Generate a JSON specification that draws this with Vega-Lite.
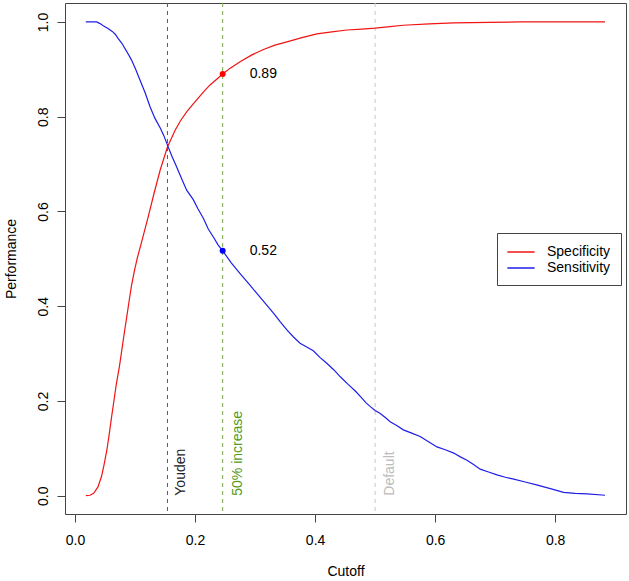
{
  "$schema": "https://vega.github.io/schema/vega-lite/v6.json",
  "width": 561,
  "height": 511,
  "autosize": {"type": "none"},
  "padding": {"left": 65, "top": 3, "right": 3, "bottom": 67},
  "background": "white",
  "config": {
    "view": {"stroke": "#444", "strokeWidth": 1},
    "font": "Liberation Sans",
    "axis": {
      "domain": false, "grid": false, "tickColor": "#444", "tickSize": 8, "tickWidth": 1,
      "labelFont": "Liberation Sans", "labelFontSize": 14, "labelColor": "#000",
      "titleFont": "Liberation Sans", "titleFontSize": 14, "titleFontWeight": "normal", "titleColor": "#000"
    },
    "legend": {
      "labelFont": "Liberation Sans", "labelFontSize": 14, "labelColor": "#000"
    }
  },
  "datasets": {
    "curves": [
      {"cutoff": 0.018, "value": 0.000, "measure": "Specificity"},
      {"cutoff": 0.025, "value": 0.001, "measure": "Specificity"},
      {"cutoff": 0.031, "value": 0.005, "measure": "Specificity"},
      {"cutoff": 0.038, "value": 0.018, "measure": "Specificity"},
      {"cutoff": 0.044, "value": 0.040, "measure": "Specificity"},
      {"cutoff": 0.048, "value": 0.063, "measure": "Specificity"},
      {"cutoff": 0.053, "value": 0.096, "measure": "Specificity"},
      {"cutoff": 0.057, "value": 0.130, "measure": "Specificity"},
      {"cutoff": 0.061, "value": 0.167, "measure": "Specificity"},
      {"cutoff": 0.065, "value": 0.202, "measure": "Specificity"},
      {"cutoff": 0.069, "value": 0.237, "measure": "Specificity"},
      {"cutoff": 0.074, "value": 0.273, "measure": "Specificity"},
      {"cutoff": 0.078, "value": 0.308, "measure": "Specificity"},
      {"cutoff": 0.082, "value": 0.343, "measure": "Specificity"},
      {"cutoff": 0.086, "value": 0.376, "measure": "Specificity"},
      {"cutoff": 0.090, "value": 0.410, "measure": "Specificity"},
      {"cutoff": 0.094, "value": 0.443, "measure": "Specificity"},
      {"cutoff": 0.099, "value": 0.475, "measure": "Specificity"},
      {"cutoff": 0.104, "value": 0.503, "measure": "Specificity"},
      {"cutoff": 0.110, "value": 0.531, "measure": "Specificity"},
      {"cutoff": 0.116, "value": 0.560, "measure": "Specificity"},
      {"cutoff": 0.122, "value": 0.589, "measure": "Specificity"},
      {"cutoff": 0.132, "value": 0.640, "measure": "Specificity"},
      {"cutoff": 0.142, "value": 0.688, "measure": "Specificity"},
      {"cutoff": 0.154, "value": 0.736, "measure": "Specificity"},
      {"cutoff": 0.167, "value": 0.772, "measure": "Specificity"},
      {"cutoff": 0.176, "value": 0.792, "measure": "Specificity"},
      {"cutoff": 0.186, "value": 0.810, "measure": "Specificity"},
      {"cutoff": 0.197, "value": 0.827, "measure": "Specificity"},
      {"cutoff": 0.207, "value": 0.842, "measure": "Specificity"},
      {"cutoff": 0.216, "value": 0.855, "measure": "Specificity"},
      {"cutoff": 0.225, "value": 0.867, "measure": "Specificity"},
      {"cutoff": 0.236, "value": 0.879, "measure": "Specificity"},
      {"cutoff": 0.246, "value": 0.890, "measure": "Specificity"},
      {"cutoff": 0.258, "value": 0.902, "measure": "Specificity"},
      {"cutoff": 0.275, "value": 0.916, "measure": "Specificity"},
      {"cutoff": 0.294, "value": 0.930, "measure": "Specificity"},
      {"cutoff": 0.314, "value": 0.942, "measure": "Specificity"},
      {"cutoff": 0.333, "value": 0.951, "measure": "Specificity"},
      {"cutoff": 0.353, "value": 0.958, "measure": "Specificity"},
      {"cutoff": 0.378, "value": 0.967, "measure": "Specificity"},
      {"cutoff": 0.403, "value": 0.975, "measure": "Specificity"},
      {"cutoff": 0.428, "value": 0.979, "measure": "Specificity"},
      {"cutoff": 0.453, "value": 0.983, "measure": "Specificity"},
      {"cutoff": 0.478, "value": 0.985, "measure": "Specificity"},
      {"cutoff": 0.500, "value": 0.987, "measure": "Specificity"},
      {"cutoff": 0.525, "value": 0.990, "measure": "Specificity"},
      {"cutoff": 0.547, "value": 0.993, "measure": "Specificity"},
      {"cutoff": 0.590, "value": 0.996, "measure": "Specificity"},
      {"cutoff": 0.631, "value": 0.998, "measure": "Specificity"},
      {"cutoff": 0.690, "value": 0.999, "measure": "Specificity"},
      {"cutoff": 0.742, "value": 1.000, "measure": "Specificity"},
      {"cutoff": 0.883, "value": 1.000, "measure": "Specificity"},
      {"cutoff": 0.018, "value": 1.000, "measure": "Sensitivity"},
      {"cutoff": 0.036, "value": 1.000, "measure": "Sensitivity"},
      {"cutoff": 0.041, "value": 0.997, "measure": "Sensitivity"},
      {"cutoff": 0.047, "value": 0.992, "measure": "Sensitivity"},
      {"cutoff": 0.055, "value": 0.986, "measure": "Sensitivity"},
      {"cutoff": 0.062, "value": 0.980, "measure": "Sensitivity"},
      {"cutoff": 0.067, "value": 0.974, "measure": "Sensitivity"},
      {"cutoff": 0.072, "value": 0.965, "measure": "Sensitivity"},
      {"cutoff": 0.078, "value": 0.955, "measure": "Sensitivity"},
      {"cutoff": 0.086, "value": 0.938, "measure": "Sensitivity"},
      {"cutoff": 0.094, "value": 0.920, "measure": "Sensitivity"},
      {"cutoff": 0.101, "value": 0.900, "measure": "Sensitivity"},
      {"cutoff": 0.108, "value": 0.878, "measure": "Sensitivity"},
      {"cutoff": 0.117, "value": 0.850, "measure": "Sensitivity"},
      {"cutoff": 0.125, "value": 0.821, "measure": "Sensitivity"},
      {"cutoff": 0.133, "value": 0.797, "measure": "Sensitivity"},
      {"cutoff": 0.142, "value": 0.776, "measure": "Sensitivity"},
      {"cutoff": 0.148, "value": 0.760, "measure": "Sensitivity"},
      {"cutoff": 0.154, "value": 0.740, "measure": "Sensitivity"},
      {"cutoff": 0.162, "value": 0.715, "measure": "Sensitivity"},
      {"cutoff": 0.169, "value": 0.695, "measure": "Sensitivity"},
      {"cutoff": 0.178, "value": 0.668, "measure": "Sensitivity"},
      {"cutoff": 0.186, "value": 0.645, "measure": "Sensitivity"},
      {"cutoff": 0.197, "value": 0.625, "measure": "Sensitivity"},
      {"cutoff": 0.205, "value": 0.605, "measure": "Sensitivity"},
      {"cutoff": 0.214, "value": 0.585, "measure": "Sensitivity"},
      {"cutoff": 0.222, "value": 0.563, "measure": "Sensitivity"},
      {"cutoff": 0.231, "value": 0.545, "measure": "Sensitivity"},
      {"cutoff": 0.238, "value": 0.530, "measure": "Sensitivity"},
      {"cutoff": 0.246, "value": 0.517, "measure": "Sensitivity"},
      {"cutoff": 0.260, "value": 0.492, "measure": "Sensitivity"},
      {"cutoff": 0.275, "value": 0.469, "measure": "Sensitivity"},
      {"cutoff": 0.289, "value": 0.448, "measure": "Sensitivity"},
      {"cutoff": 0.303, "value": 0.427, "measure": "Sensitivity"},
      {"cutoff": 0.317, "value": 0.406, "measure": "Sensitivity"},
      {"cutoff": 0.331, "value": 0.385, "measure": "Sensitivity"},
      {"cutoff": 0.342, "value": 0.367, "measure": "Sensitivity"},
      {"cutoff": 0.353, "value": 0.350, "measure": "Sensitivity"},
      {"cutoff": 0.364, "value": 0.335, "measure": "Sensitivity"},
      {"cutoff": 0.375, "value": 0.322, "measure": "Sensitivity"},
      {"cutoff": 0.386, "value": 0.314, "measure": "Sensitivity"},
      {"cutoff": 0.397, "value": 0.306, "measure": "Sensitivity"},
      {"cutoff": 0.408, "value": 0.292, "measure": "Sensitivity"},
      {"cutoff": 0.419, "value": 0.280, "measure": "Sensitivity"},
      {"cutoff": 0.431, "value": 0.266, "measure": "Sensitivity"},
      {"cutoff": 0.442, "value": 0.251, "measure": "Sensitivity"},
      {"cutoff": 0.455, "value": 0.235, "measure": "Sensitivity"},
      {"cutoff": 0.467, "value": 0.221, "measure": "Sensitivity"},
      {"cutoff": 0.478, "value": 0.206, "measure": "Sensitivity"},
      {"cutoff": 0.485, "value": 0.196, "measure": "Sensitivity"},
      {"cutoff": 0.492, "value": 0.188, "measure": "Sensitivity"},
      {"cutoff": 0.500, "value": 0.180, "measure": "Sensitivity"},
      {"cutoff": 0.508, "value": 0.174, "measure": "Sensitivity"},
      {"cutoff": 0.517, "value": 0.165, "measure": "Sensitivity"},
      {"cutoff": 0.525, "value": 0.156, "measure": "Sensitivity"},
      {"cutoff": 0.536, "value": 0.148, "measure": "Sensitivity"},
      {"cutoff": 0.547, "value": 0.139, "measure": "Sensitivity"},
      {"cutoff": 0.561, "value": 0.132, "measure": "Sensitivity"},
      {"cutoff": 0.575, "value": 0.125, "measure": "Sensitivity"},
      {"cutoff": 0.589, "value": 0.114, "measure": "Sensitivity"},
      {"cutoff": 0.603, "value": 0.103, "measure": "Sensitivity"},
      {"cutoff": 0.617, "value": 0.097, "measure": "Sensitivity"},
      {"cutoff": 0.631, "value": 0.090, "measure": "Sensitivity"},
      {"cutoff": 0.642, "value": 0.082, "measure": "Sensitivity"},
      {"cutoff": 0.653, "value": 0.075, "measure": "Sensitivity"},
      {"cutoff": 0.664, "value": 0.066, "measure": "Sensitivity"},
      {"cutoff": 0.675, "value": 0.056, "measure": "Sensitivity"},
      {"cutoff": 0.689, "value": 0.050, "measure": "Sensitivity"},
      {"cutoff": 0.703, "value": 0.044, "measure": "Sensitivity"},
      {"cutoff": 0.717, "value": 0.039, "measure": "Sensitivity"},
      {"cutoff": 0.731, "value": 0.035, "measure": "Sensitivity"},
      {"cutoff": 0.750, "value": 0.029, "measure": "Sensitivity"},
      {"cutoff": 0.769, "value": 0.023, "measure": "Sensitivity"},
      {"cutoff": 0.792, "value": 0.015, "measure": "Sensitivity"},
      {"cutoff": 0.814, "value": 0.007, "measure": "Sensitivity"},
      {"cutoff": 0.833, "value": 0.005, "measure": "Sensitivity"},
      {"cutoff": 0.853, "value": 0.004, "measure": "Sensitivity"},
      {"cutoff": 0.883, "value": 0.001, "measure": "Sensitivity"}
    ],
    "cutoffs": [
      {"cutoff": 0.154, "name": "Youden"},
      {"cutoff": 0.246, "name": "50% increase"},
      {"cutoff": 0.5, "name": "Default"}
    ],
    "marks": [
      {"cutoff": 0.246, "value": 0.89, "measure": "Specificity", "label": "0.89"},
      {"cutoff": 0.246, "value": 0.517, "measure": "Sensitivity", "label": "0.52"}
    ]
  },
  "encoding": {
    "x": {
      "field": "cutoff", "type": "quantitative", "title": "Cutoff",
      "scale": {"domain": [-0.0167, 0.918], "nice": false, "zero": false},
      "axis": {"values": [0, 0.2, 0.4, 0.6, 0.8], "format": ".1f", "labelPadding": 11, "titlePadding": 17, "labelFlush": false}
    }
  },
  "layer": [
    {
      "data": {"name": "cutoffs"},
      "transform": [{"filter": "datum.name === 'Youden'"}],
      "mark": {"type": "rule", "color": "#555", "strokeDash": [4, 4], "strokeWidth": 1}
    },
    {
      "data": {"name": "cutoffs"},
      "transform": [{"filter": "datum.name === '50% increase'"}],
      "mark": {"type": "rule", "color": "#7aa84f", "strokeDash": [4, 4], "strokeWidth": 1}
    },
    {
      "data": {"name": "cutoffs"},
      "transform": [{"filter": "datum.name === 'Default'"}],
      "mark": {"type": "rule", "color": "#c8c8c8", "strokeDash": [4, 4], "strokeWidth": 1}
    },
    {
      "data": {"name": "curves"},
      "mark": {"type": "line", "strokeWidth": 1.2, "interpolate": "linear"},
      "encoding": {
        "y": {
          "field": "value", "type": "quantitative", "title": "Performance",
          "scale": {"domain": [-0.0386, 1.04], "nice": false, "zero": false},
          "axis": {"values": [0, 0.2, 0.4, 0.6, 0.8, 1.0], "format": ".1f", "labelAngle": 270, "labelAlign": "center", "labelBaseline": "bottom", "labelPadding": 7, "titlePadding": 18, "labelFlush": false}
        },
        "color": {
          "field": "measure", "type": "nominal",
          "scale": {"domain": ["Specificity", "Sensitivity"], "range": ["#f01414", "#1e1ee6"]},
          "legend": {
            "title": null, "orient": "none", "legendX": 432, "legendY": 230,
            "strokeColor": "#444", "fillColor": "white", "padding": 10,
            "symbolType": "M-1.7,0H1.7", "symbolSize": 256, "symbolStrokeWidth": 1.5,
            "symbolOffset": 5, "labelOffset": 17, "rowPadding": 0
          }
        }
      }
    },
    {
      "data": {"name": "marks"},
      "mark": {"type": "point", "filled": true, "size": 36, "opacity": 1},
      "encoding": {
        "y": {"field": "value", "type": "quantitative"},
        "fill": {
          "field": "measure", "type": "nominal",
          "scale": {"domain": ["Specificity", "Sensitivity"], "range": ["#ff0000", "#0000ff"]},
          "legend": null
        }
      }
    },
    {
      "data": {"name": "marks"},
      "mark": {"type": "text", "align": "left", "baseline": "middle", "dx": 27, "fontSize": 14, "color": "#000"},
      "encoding": {
        "y": {"field": "value", "type": "quantitative"},
        "text": {"field": "label"}
      }
    },
    {
      "data": {"name": "cutoffs"},
      "transform": [{"filter": "datum.name === 'Youden'"}],
      "mark": {"type": "text", "angle": 270, "align": "left", "baseline": "top", "dy": 7, "fontSize": 14, "color": "#222"},
      "encoding": {"y": {"datum": 0, "type": "quantitative"}, "text": {"field": "name"}}
    },
    {
      "data": {"name": "cutoffs"},
      "transform": [{"filter": "datum.name === '50% increase'"}],
      "mark": {"type": "text", "angle": 270, "align": "left", "baseline": "top", "dy": 8, "fontSize": 14, "color": "#559a1a"},
      "encoding": {"y": {"datum": 0, "type": "quantitative"}, "text": {"field": "name"}}
    },
    {
      "data": {"name": "cutoffs"},
      "transform": [{"filter": "datum.name === 'Default'"}],
      "mark": {"type": "text", "angle": 270, "align": "left", "baseline": "top", "dy": 8, "fontSize": 14, "color": "#bdbdbd"},
      "encoding": {"y": {"datum": 0, "type": "quantitative"}, "text": {"field": "name"}}
    }
  ]
}
